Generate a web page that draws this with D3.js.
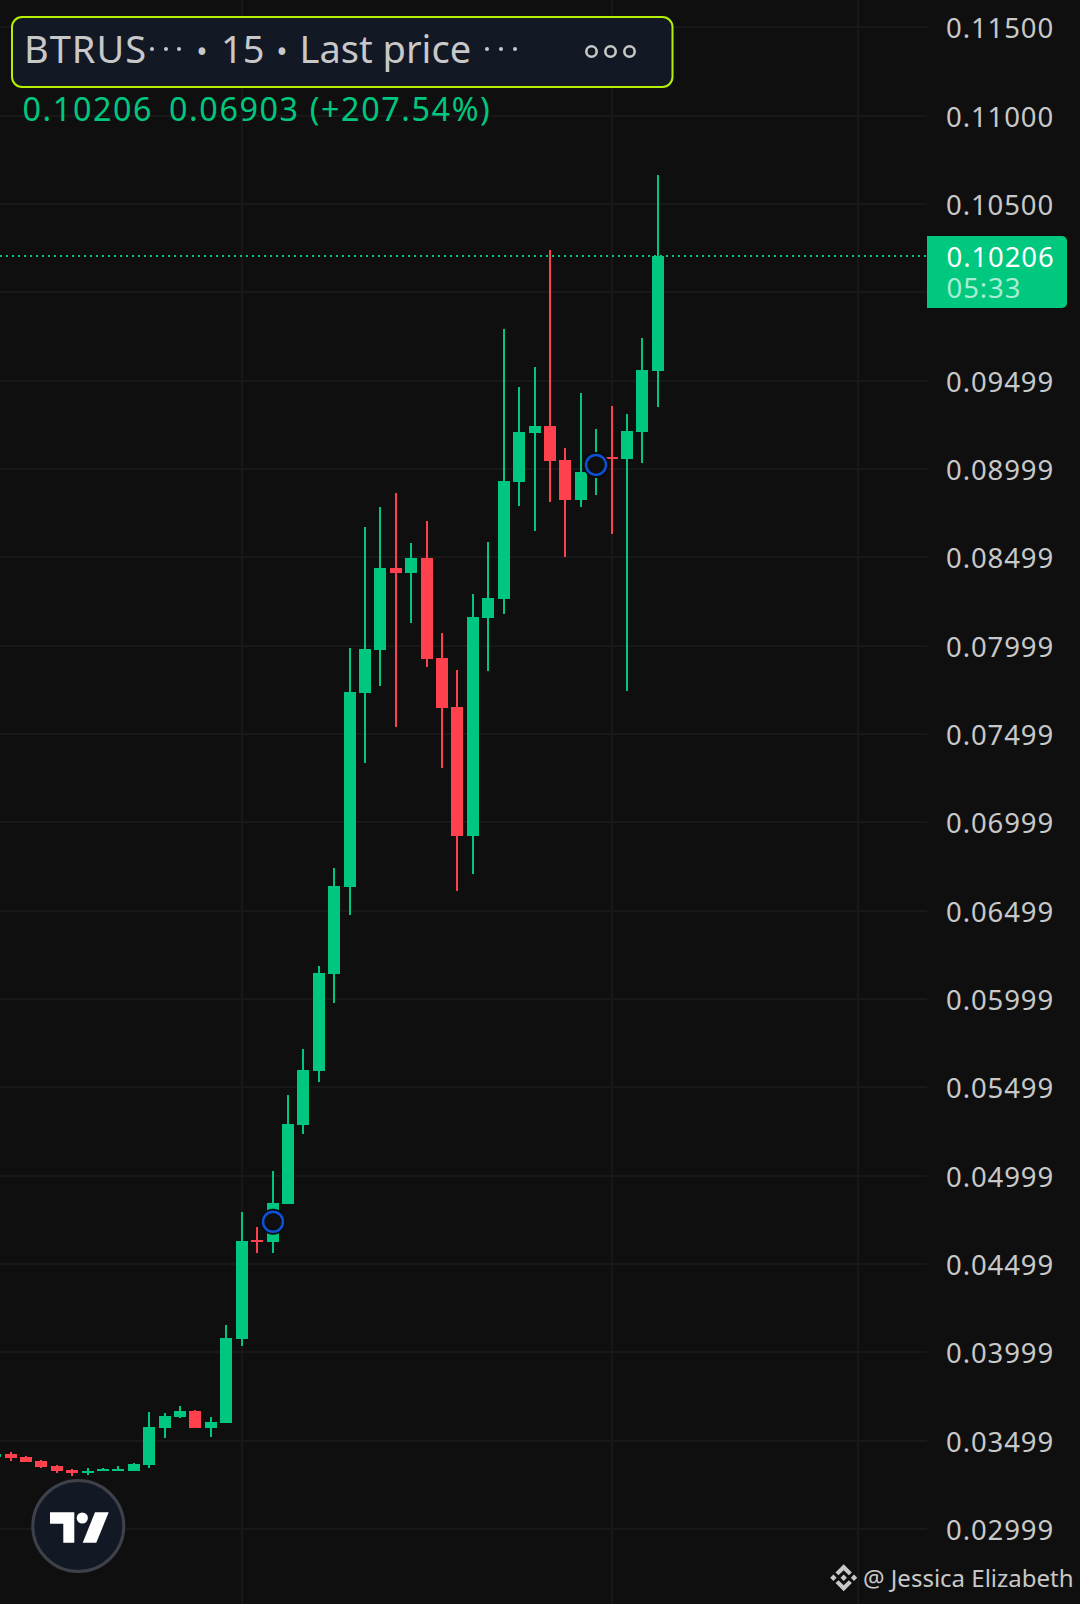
<!DOCTYPE html>
<html>
<head>
<meta charset="utf-8">
<script src="https://cdn.jsdelivr.net/npm/d3@7/dist/d3.min.js"></script>
<style>
html,body{margin:0;padding:0;background:#0f0f0f;overflow:hidden}
svg{display:block}
text{font-family:"Noto Sans",sans-serif}
</style>
</head>
<body>
<svg id="chart" width="1080" height="1604"></svg>
<script>
const opens  = [.03407,.03424,.03407,.03385,.03356,.03334,.03317,.03328,.03328,.03328,.03362,.03571,.03634,.03668,.03571,.03600,.04075,.04636,.04624,.04839,.05287,.05592,.06141,.06634,.07732,.07975,.08440,.08411,.08496,.07930,.07653,.06923,.08157,.08264,.08926,.09204,.09243,.09051,.08825,.08983,.09068,.09057,.09209,.09555];
const highs  = [.03430,.03436,.03413,.03390,.03362,.03339,.03345,.03345,.03356,.03373,.03662,.03656,.03696,.03673,.03634,.04154,.04794,.04709,.05026,.05456,.05717,.06187,.06741,.07987,.08672,.08785,.08864,.08581,.08706,.08072,.07862,.08292,.08587,.09792,.09464,.09577,.10240,.09119,.09430,.09226,.09357,.09311,.09742,.10664];
const lows   = [.03402,.03385,.03379,.03345,.03317,.03300,.03305,.03328,.03328,.03328,.03345,.03515,.03628,.03571,.03520,.03600,.04036,.04562,.04562,.04839,.05236,.05530,.05977,.06475,.07336,.07772,.07540,.08128,.07879,.07308,.06611,.06707,.07857,.08179,.08791,.08649,.08813,.08502,.08785,.08853,.08632,.07743,.09034,.09351];
const closes = [.03424,.03402,.03379,.03351,.03328,.03317,.03328,.03339,.03339,.03368,.03577,.03639,.03668,.03571,.03605,.04081,.04630,.04624,.04845,.05292,.05598,.06147,.06640,.07738,.07981,.08440,.08411,.08496,.07925,.07647,.06923,.08162,.08270,.08932,.09209,.09243,.09045,.08825,.08983,.09057,.09057,.09215,.09560,.10206];
const priceTicks = [.115,.11,.105,.10,.09499,.08999,.08499,.07999,.07499,.06999,.06499,.05999,.05499,.04999,.04499,.03999,.03499,.02999];
const priceLabels = ["0.11500","0.11000","0.10500","","0.09499","0.08999","0.08499","0.07999","0.07499","0.06999","0.06499","0.05999","0.05499","0.04999","0.04499","0.03999","0.03499","0.02999"];
const timeGridBars = [16,40,56];
const markerBars = [{bar:18,price:.04738},{bar:39,price:.09023}];
const lastPrice = .10206;
const lastLabel = "0.10206", countdown = "05:33";
const changeLabel = "0.06903 (+207.54%)";

const UP="#00c77f", DOWN="#ff404d", BG="#0f0f0f", GRID="#181818", TXT="#c8c8c8";
const svg=d3.select("#chart");
svg.append("rect").attr("width",1080).attr("height",1604).attr("fill",BG);

const y=d3.scaleLinear().domain([.105,.02999]).range([204,1529]);
const xs=d3.scaleLinear().domain([0,43]).range([-4.4,658.3]);
const x=i=>Math.floor(xs(i));
const n=opens.length, idx=d3.range(n);
const colorOf=i=>closes[i]>=opens[i]?UP:DOWN;

// grid
const g=svg.append("g");
g.selectAll(".h").data(priceTicks).join("rect").attr("class","h")
 .attr("x",0).attr("width",927).attr("y",d=>Math.round(y(d))-1).attr("height",2).attr("fill",GRID);
g.selectAll(".v").data(timeGridBars).join("rect").attr("class","v")
 .attr("x",d=>x(d)-1).attr("width",2).attr("y",0).attr("height",1604).attr("fill",GRID);

// last price line
svg.append("line").attr("x1",0).attr("x2",927).attr("y1",y(lastPrice)).attr("y2",y(lastPrice))
 .attr("stroke",UP).attr("stroke-width",2).attr("stroke-dasharray","2,4");

// candles
const c=svg.append("g");
c.selectAll(".wick").data(idx).join("rect").attr("class","wick")
 .attr("x",i=>x(i)-1).attr("width",2)
 .attr("y",i=>Math.round(y(highs[i])))
 .attr("height",i=>Math.max(1,Math.round(y(lows[i]))-Math.round(y(highs[i]))))
 .attr("fill",colorOf);
c.selectAll(".body").data(idx).join("rect").attr("class","body")
 .attr("x",i=>x(i)-6).attr("width",12)
 .attr("y",i=>Math.round(y(Math.max(opens[i],closes[i]))))
 .attr("height",i=>Math.max(2,Math.round(y(Math.min(opens[i],closes[i])))-Math.round(y(Math.max(opens[i],closes[i])))))
 .attr("fill",colorOf);

// markers
svg.selectAll(".mk").data(markerBars).join("circle").attr("class","mk")
 .attr("cx",d=>x(d.bar)).attr("cy",d=>y(d.price)).attr("r",13).attr("fill","#0a0a0a");
svg.selectAll(".mk2").data(markerBars).join("circle").attr("class","mk2")
 .attr("cx",d=>x(d.bar)).attr("cy",d=>y(d.price)).attr("r",10).attr("fill",BG)
 .attr("stroke","#0b52d6").attr("stroke-width",2.5);

// price axis
const axis=d3.axisRight(y).tickValues(priceTicks).tickSize(0).tickPadding(0)
 .tickFormat((d,i)=>priceLabels[i]);
const ag=svg.append("g").attr("transform","translate(946,0)").call(axis);
ag.select(".domain").remove();
ag.selectAll("text").attr("fill",TXT).attr("font-size",27.5).attr("letter-spacing",0.9)
  .style("font-family",'"Noto Sans",sans-serif').attr("dy","0.38em");

// last price tag
svg.append("path").attr("d","M927 236H1062a5 5 0 0 1 5 5V303a5 5 0 0 1-5 5H927Z").attr("fill","#00c97f");
svg.append("text").attr("x",946.5).attr("y",267).attr("fill","#fff").attr("font-size",27.5).attr("letter-spacing",0.9).text(lastLabel);
svg.append("text").attr("x",946.5).attr("y",298).attr("fill","#a9ecd3").attr("font-size",27.5).attr("letter-spacing",0.9).text(countdown);

// legend box
svg.append("rect").attr("x",12).attr("y",17).attr("width",660.5).attr("height",70).attr("rx",10)
 .attr("fill","#131825").attr("stroke","#b5f000").attr("stroke-width",2);
const title=[["BTRUS",24,1],["15",221,0],["Last price",299.5,0]];
svg.selectAll(".tt").data(title).join("text").attr("class","tt")
 .attr("x",d=>d[1]).attr("y",63).attr("fill",TXT).attr("font-size",38).attr("letter-spacing",d=>d[2]).text(d=>d[0]);
svg.selectAll(".bl").data([202,282]).join("text").attr("class","bl")
 .attr("x",d=>d).attr("y",63).attr("text-anchor","middle").attr("fill",TXT).attr("font-size",30).text("•");
svg.selectAll(".dots").data([152,166,179,487,501,515]).join("circle").attr("class","dots")
 .attr("cx",d=>d).attr("cy",49).attr("r",2).attr("fill",TXT);
svg.selectAll(".rings").data([591.5,610.5,629.5]).join("circle").attr("class","rings")
 .attr("cx",d=>d).attr("cy",51.5).attr("r",5.2).attr("fill","none").attr("stroke",TXT).attr("stroke-width",2.6);

// values line
svg.append("text").attr("x",22.5).attr("y",121).attr("fill",UP).attr("font-size",32.3).attr("letter-spacing",1.6).text(lastLabel);
svg.append("text").attr("x",169).attr("y",121).attr("fill",UP).attr("font-size",32.3).attr("letter-spacing",1.6).text(changeLabel);

// logo
const logo=svg.append("g");
logo.append("circle").attr("cx",78.3).attr("cy",1526).attr("r",45.5).attr("fill","#131825").attr("stroke","#3e4149").attr("stroke-width",3);
logo.append("path").attr("fill","#fff").attr("d","M50 1512.3H74.3V1542.7H63.3V1523.7H50Z");
logo.append("circle").attr("cx",82.3).attr("cy",1518).attr("r",5.6).attr("fill","#fff");
logo.append("path").attr("fill","#fff").attr("d","M95 1512.3H108.7L96.3 1542.7H82.7Z");

// watermark
const wm=svg.append("g").attr("transform","translate(843.7,1577.7)").attr("fill",TXT);
wm.append("path").attr("d","M0 -3.2L3.2 0L0 3.2L-3.2 0Z");
wm.append("path").attr("d","M-13.5 0L-10.3 -3.2L-7.1 0L-10.3 3.2Z");
wm.append("path").attr("d","M13.5 0L10.3 -3.2L7.1 0L10.3 3.2Z");
wm.append("path").attr("d","M0 -13.5L8.2 -5.3L5.2 -2.5L0 -7.5L-5.2 -2.5L-8.2 -5.3Z");
wm.append("path").attr("d","M0 13.5L8.2 5.3L5.2 2.5L0 7.5L-5.2 2.5L-8.2 5.3Z");
svg.append("text").attr("x",863).attr("y",1587).attr("fill",TXT).attr("font-size",24).text("@ Jessica Elizabeth");
</script>
</body>
</html>
